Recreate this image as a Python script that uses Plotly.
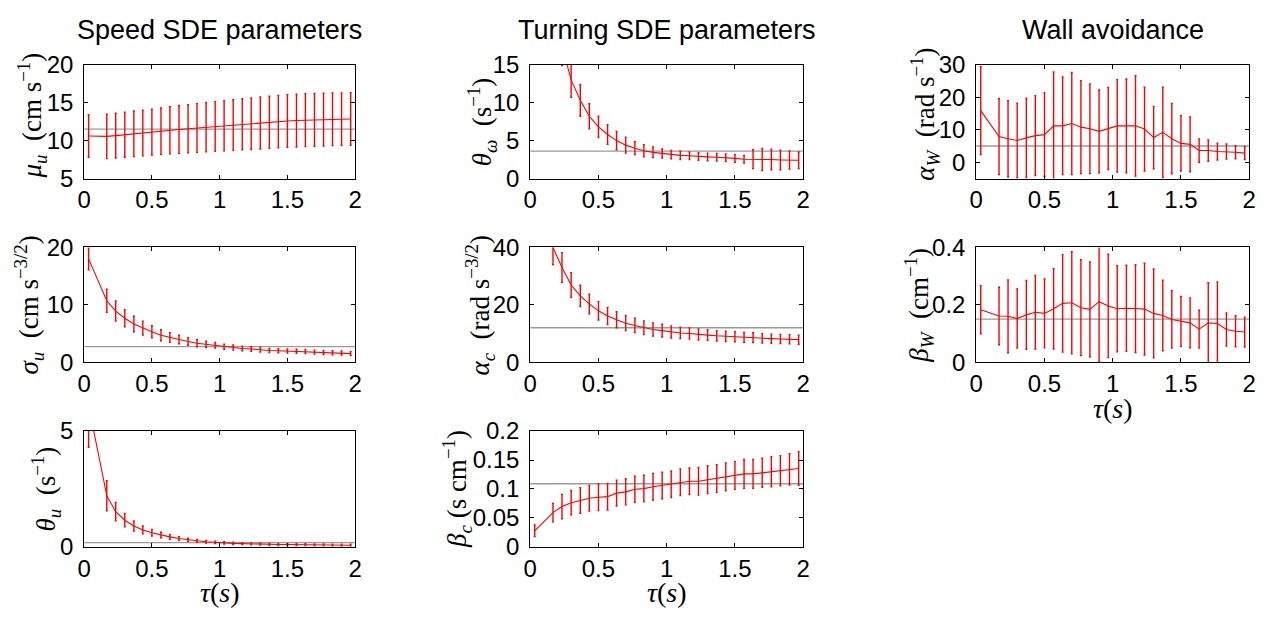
import plotly.graph_objects as go

W, H = 1275, 622

# ---------------- data ----------------
TAU = [0.033, 0.167, 0.233, 0.3, 0.367, 0.433, 0.5, 0.567, 0.633, 0.7,
       0.767, 0.833, 0.9, 0.967, 1.033, 1.1, 1.167, 1.233, 1.3, 1.367,
       1.433, 1.5, 1.567, 1.633, 1.7, 1.767, 1.833, 1.9, 1.967]
X_TICKS = [0, 0.5, 1, 1.5, 2]
X_TICKTEXT = ["0", "0.5", "1", "1.5", "2"]

MU_U = [10.6, 10.55, 10.65, 10.78, 10.9, 11.0, 11.12, 11.24, 11.35, 11.46,
        11.56, 11.66, 11.76, 11.86, 11.96, 12.05, 12.14, 12.23, 12.32, 12.41,
        12.5, 12.58, 12.64, 12.69, 12.73, 12.77, 12.8, 12.82, 12.85]
MU_U_ERR = [2.8, 2.93, 2.95, 2.97, 3.0, 3.01, 3.02, 3.06, 3.1, 3.14,
            3.18, 3.21, 3.25, 3.28, 3.31, 3.34, 3.37, 3.4, 3.42, 3.44,
            3.46, 3.48, 3.48, 3.48, 3.48, 3.48, 3.47, 3.47, 3.47]
MU_U_REF = 11.5

THETA_W = [40, 23, 17.5, 13.0, 10.3, 8.2, 6.8, 5.8, 5.0, 4.4,
           4.0, 3.65, 3.45, 3.3, 3.15, 3.05, 3.0, 2.9, 2.85, 2.8,
           2.75, 2.65, 2.55, 2.55, 2.5, 2.5, 2.45, 2.45, 2.4]
THETA_W_ERR = [6, 3.5, 2.6, 2.3, 2.1, 1.65, 1.4, 1.3, 1.2, 1.05,
               0.85, 0.8, 0.7, 0.6, 0.55, 0.55, 0.5, 0.5, 0.5, 0.5,
               0.5, 0.5, 0.5, 1.25, 1.45, 1.35, 1.3, 1.2, 1.1]
THETA_W_REF = 3.6

ALPHA_W = [15.9, 7.9, 7.25, 6.7, 7.5, 8.2, 8.5, 11.2, 11.2, 11.9,
           10.8, 10.3, 9.5, 10.4, 11.2, 11.2, 11.2, 10.2, 7.6, 9.2,
           7.25, 5.8, 5.5, 3.6, 3.6, 3.3, 3.3, 3.1, 2.8]
ALPHA_W_ERR = [13.5, 11.7, 11.7, 11.5, 12.2, 12.3, 12.9, 16.6, 15.0, 15.7,
               14.3, 13.8, 12.7, 12.6, 14.2, 14.4, 15.4, 12.9, 9.6, 13.9,
               10.8, 8.5, 8.4, 3.6, 3.3, 2.6, 2.3, 2.0, 1.95]
ALPHA_W_REF = 5.0

SIGMA_U = [18.0, 10.7, 8.9, 7.65, 6.65, 5.95, 5.3, 4.7, 4.3, 3.95,
           3.6, 3.3, 3.1, 2.95, 2.7, 2.55, 2.4, 2.3, 2.15, 2.05,
           2.0, 1.95, 1.9, 1.85, 1.75, 1.7, 1.65, 1.6, 1.5]
SIGMA_U_ERR = [1.9, 2.0, 1.75, 1.5, 1.35, 1.2, 1.05, 0.95, 0.85, 0.75,
               0.65, 0.6, 0.55, 0.5, 0.45, 0.45, 0.4, 0.4, 0.4, 0.35,
               0.35, 0.35, 0.35, 0.35, 0.35, 0.35, 0.35, 0.35, 0.35]
SIGMA_U_REF = 2.7

ALPHA_C = [70, 40, 33.0, 26.9, 23.1, 20.3, 17.9, 16.1, 14.8, 13.6,
           12.8, 12.0, 11.4, 11.0, 10.55, 10.2, 10.0, 9.65, 9.45, 9.2,
           9.0, 8.9, 8.65, 8.55, 8.3, 8.2, 8.1, 8.0, 7.85]
ALPHA_C_ERR = [10, 6, 5.2, 4.3, 3.7, 3.4, 3.2, 3.0, 2.8, 2.6,
               2.5, 2.4, 2.3, 2.2, 2.1, 2.0, 1.95, 1.9, 1.85, 1.8,
               1.8, 1.75, 1.7, 1.7, 1.65, 1.6, 1.6, 1.6, 1.6]
ALPHA_C_REF = 12.0

BETA_W = [0.183, 0.161, 0.160, 0.152, 0.165, 0.174, 0.170, 0.186, 0.205, 0.207,
          0.190, 0.184, 0.211, 0.196, 0.186, 0.188, 0.187, 0.185, 0.170, 0.163,
          0.149, 0.142, 0.137, 0.115, 0.137, 0.135, 0.114, 0.108, 0.105]
BETA_W_ERR = [0.084, 0.1, 0.127, 0.103, 0.12, 0.128, 0.12, 0.14, 0.17, 0.178,
              0.167, 0.165, 0.21, 0.18, 0.15, 0.15, 0.153, 0.16, 0.155, 0.123,
              0.1, 0.087, 0.087, 0.066, 0.14, 0.145, 0.058, 0.054, 0.052]
BETA_W_REF = 0.15

THETA_U = [6.1, 2.21, 1.52, 1.15, 0.9, 0.73, 0.61, 0.51, 0.43, 0.36,
           0.30, 0.26, 0.22, 0.19, 0.17, 0.15, 0.14, 0.125, 0.12, 0.11,
           0.10, 0.10, 0.095, 0.09, 0.085, 0.08, 0.075, 0.07, 0.07]
THETA_U_ERR = [1.8, 0.65, 0.4, 0.29, 0.22, 0.17, 0.14, 0.12, 0.1, 0.08,
               0.07, 0.06, 0.06, 0.05, 0.05, 0.05, 0.04, 0.04, 0.04, 0.04,
               0.04, 0.04, 0.04, 0.04, 0.04, 0.04, 0.04, 0.04, 0.04]
THETA_U_REF = 0.18

BETA_C = [0.0276, 0.0591, 0.0696, 0.0762, 0.0801, 0.084, 0.0856, 0.0867, 0.0928, 0.095,
          0.0994, 0.1006, 0.1039, 0.1061, 0.1083, 0.1116, 0.1133, 0.1133, 0.116, 0.118,
          0.121, 0.1232, 0.126, 0.126, 0.128, 0.1298, 0.1315, 0.1337, 0.1354]
BETA_C_ERR = [0.01, 0.016, 0.021, 0.021, 0.022, 0.022, 0.023, 0.023, 0.0225, 0.0225,
              0.0225, 0.023, 0.023, 0.023, 0.023, 0.023, 0.023, 0.024, 0.024, 0.024,
              0.024, 0.024, 0.025, 0.025, 0.025, 0.026, 0.026, 0.027, 0.029]
BETA_C_REF = 0.109

COL_TITLES = ["Speed SDE parameters", "Turning SDE parameters", "Wall avoidance"]

# ---------------- layout geometry (pixels) ----------------
COLS_PX = [(78, 352), (529, 805), (980, 1256)]
ROWS_PX = [(53, 172), (244, 364), (436, 557)]

SANS = "Liberation Sans, Arial, Helvetica, sans-serif"
SERIF = "Liberation Serif, Times New Roman, serif"
TICK_FONT = dict(family=SANS, size=24, color="black")

panels = [
    dict(r=0, c=0, y=MU_U, e=MU_U_ERR, ref=MU_U_REF, yr=[5, 20],
         tv=[5, 10, 15, 20], tt=["5", "10", "15", "20"],
         lab="<i>μ<sub>u</sub></i>  (cm s<sup>−1</sup>)", lx=25, ly=-6, xt=False),
    dict(r=1, c=0, y=SIGMA_U, e=SIGMA_U_ERR, ref=SIGMA_U_REF, yr=[0, 20],
         tv=[0, 10, 20], tt=["0", "10", "20"],
         lab="<i>σ<sub>u</sub></i>  (cm s<sup>−3/2</sup>)", lx=22, ly=0, xt=False),
    dict(r=2, c=0, y=THETA_U, e=THETA_U_ERR, ref=THETA_U_REF, yr=[0, 5],
         tv=[0, 5], tt=["0", "5"],
         lab="<i>θ<sub>u</sub></i>  (s<sup>−1</sup>)", lx=39, ly=0, xt=True),
    dict(r=0, c=1, y=THETA_W, e=THETA_W_ERR, ref=THETA_W_REF, yr=[0, 15],
         tv=[0, 5, 10, 15], tt=["0", "5", "10", "15"],
         lab="<i>θ<sub>ω</sub></i>  (s<sup>−1</sup>)", lx=480, ly=0, xt=False),
    dict(r=1, c=1, y=ALPHA_C, e=ALPHA_C_ERR, ref=ALPHA_C_REF, yr=[0, 40],
         tv=[0, 20, 40], tt=["0", "20", "40"],
         lab="<i>α<sub>c</sub></i>  (rad s<sup>−3/2</sup>)", lx=478, ly=0, xt=False),
    dict(r=2, c=1, y=BETA_C, e=BETA_C_ERR, ref=BETA_C_REF, yr=[0, 0.2],
         tv=[0, 0.05, 0.1, 0.15, 0.2], tt=["0", "0.05", "0.1", "0.15", "0.2"],
         lab="<i>β<sub>c</sub></i> (s cm<sup>−1</sup>)", lx=455, ly=0, xt=True),
    dict(r=0, c=2, y=ALPHA_W, e=ALPHA_W_ERR, ref=ALPHA_W_REF, yr=[-5, 30],
         tv=[0, 10, 20, 30], tt=["0", "10", "20", "30"],
         lab="<i>α<sub>W</sub></i>  (rad s<sup>−1</sup>)", lx=928, ly=-8, xt=False),
    dict(r=1, c=2, y=BETA_W, e=BETA_W_ERR, ref=BETA_W_REF, yr=[0, 0.4],
         tv=[0, 0.2, 0.4], tt=["0", "0.2", "0.4"],
         lab="<i>β<sub>W</sub></i>  (cm<sup>−1</sup>)", lx=922, ly=0, xt=True),
]

fig = go.Figure()
layout = dict(
    width=W, height=H,
    margin=dict(l=0, r=0, t=0, b=0),
    paper_bgcolor="white", plot_bgcolor="white",
    showlegend=False,
    annotations=[], shapes=[],
)

for i, p in enumerate(panels, start=1):
    x0, x1 = COLS_PX[p["c"]]
    y0, y1 = ROWS_PX[p["r"]]
    xd = [x0 / W, x1 / W]
    yd = [1 - y1 / H, 1 - y0 / H]
    xa = "x" if i == 1 else f"x{i}"
    ya = "y" if i == 1 else f"y{i}"
    xkey = "xaxis" if i == 1 else f"xaxis{i}"
    ykey = "yaxis" if i == 1 else f"yaxis{i}"

    layout[xkey] = dict(
        domain=xd, anchor=ya, range=[0, 2], tickvals=X_TICKS, ticktext=X_TICKTEXT,
        ticks="inside", ticklen=4, tickwidth=1, tickcolor="black",
        showline=True, linecolor="black", linewidth=1, mirror="ticks",
        showgrid=False, zeroline=False, tickfont=TICK_FONT, fixedrange=True,
    )
    layout[ykey] = dict(
        domain=yd, anchor=xa, range=p["yr"], tickvals=p["tv"], ticktext=p["tt"],
        ticks="inside", ticklen=4, tickwidth=1, tickcolor="black",
        showline=True, linecolor="black", linewidth=1, mirror="ticks",
        showgrid=False, zeroline=False, tickfont=TICK_FONT, ticklabelstandoff=5,
        fixedrange=True,
    )

    # reference (gray) line
    layout["shapes"].append(dict(
        type="line", xref=f"{xa} domain", yref=ya, x0=0, x1=1,
        y0=p["ref"], y1=p["ref"], line=dict(color="#9a9a9a", width=1.3),
        layer="below",
    ))

    fig.add_trace(go.Scatter(
        x=TAU, y=p["y"], mode="lines", xaxis=xa, yaxis=ya,
        line=dict(color="#ff0000", width=1.1),
        error_y=dict(type="data", array=p["e"], visible=True,
                     color="#ff0000", thickness=1.4, width=1),
        hoverinfo="skip",
    ))

    # y label
    layout["annotations"].append(dict(
        text=p["lab"], textangle=-90, xref="paper", yref="paper",
        x=p["lx"] / W, y=1 - ((y0 + y1) / 2 + p["ly"]) / H,
        xanchor="center", yanchor="middle", showarrow=False,
        font=dict(family=SERIF, size=27, color="black"),
    ))
    if p["xt"]:
        layout["annotations"].append(dict(
            text="<i>τ</i>(<i>s</i>)", xref="paper", yref="paper",
            x=(x0 + x1) / 2 / W, y=1 - (y1 + 48) / H,
            xanchor="center", yanchor="middle", showarrow=False,
            font=dict(family=SERIF, size=28, color="black"),
        ))

for c, t in enumerate(COL_TITLES):
    x0, x1 = COLS_PX[c]
    layout["annotations"].append(dict(
        text=t, xref="paper", yref="paper", x=(x0 + x1) / 2 / W, y=1 - 17 / H,
        xanchor="center", yanchor="middle", showarrow=False,
        font=dict(family=SANS, size=27, color="black"),
    ))

fig.update_layout(**layout)
fig.write_html("out.html")
